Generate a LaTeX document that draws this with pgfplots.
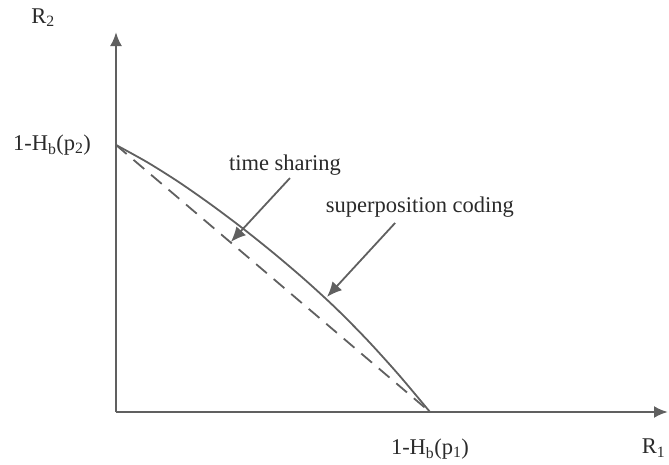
\documentclass[border=0pt]{standalone}
\usepackage{pgfplots}
\pgfplotsset{compat=1.18}
\usepackage{fontspec}
\setmainfont{Liberation Serif}
\usetikzlibrary{arrows.meta}
\definecolor{ln}{HTML}{606060}
\definecolor{tx}{HTML}{2a2a2a}
\newcommand\f{\fontsize{22.5}{26}\selectfont}
\begin{document}
\begin{tikzpicture}
\begin{axis}[
  at={(0,0)}, anchor=south west,
  scale only axis, width=552pt, height=380pt,
  xmin=0, xmax=1.758, ymin=0, ymax=1.423,
  axis lines=left,
  axis line style={ln, line width=2.5pt, -{Latex[length=14pt,width=12pt]}},
  xtick={1}, ytick={1},
  xticklabels={1-H\textsubscript{b}(p\textsubscript{1})},
  yticklabels={1-H\textsubscript{b}(p\textsubscript{2})},
  major tick length=0pt,
  xticklabel style={anchor=center, yshift=-37pt, font=\f, text=tx},
  yticklabel style={anchor=center, xshift=-64pt, font=\f, text=tx},
  xlabel={R\textsubscript{1}}, ylabel={R\textsubscript{2}},
  every axis x label/.style={at={(axis cs:1.712,-0.135)}, anchor=center, font=\f, text=tx},
  every axis y label/.style={at={(axis cs:-0.232,1.476)}, anchor=center, font=\f, text=tx},
  clip=false,
]
% superposition coding boundary
\addplot[ln, line width=1.8pt, smooth] coordinates {
  (0,1) (0.1,0.935) (0.2,0.861) (0.3,0.779) (0.4,0.691) (0.5,0.597)
  (0.6,0.497) (0.7,0.389) (0.8,0.270) (0.9,0.140) (1,0)};
% time sharing line
\addplot[ln, line width=1.8pt, dash pattern=on 14pt off 9pt] coordinates {(0,1) (1,0)};
\node[font=\f, text=tx] at (axis cs:0.538,0.925) {time sharing};
\node[font=\f, text=tx] at (axis cs:0.968,0.768) {superposition coding};
\draw[ln, line width=1.8pt, -{Latex[length=15pt,width=13pt]}] (axis cs:0.554,0.876) -- (axis cs:0.366,0.637);
\draw[ln, line width=1.8pt, -{Latex[length=15pt,width=13pt]}] (axis cs:0.889,0.708) -- (axis cs:0.672,0.431);
\end{axis}
\pgfresetboundingbox
\path[use as bounding box] (-116pt,-52pt) rectangle (553pt,412pt);
\end{tikzpicture}
\end{document}
